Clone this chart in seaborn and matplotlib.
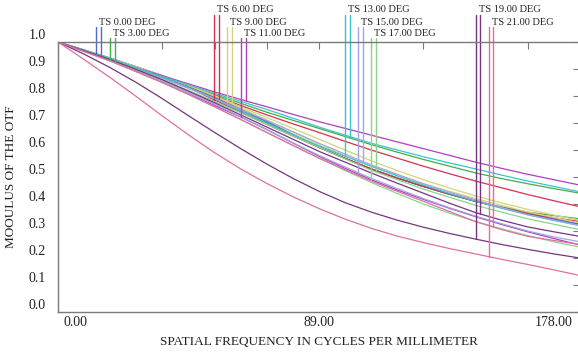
import matplotlib
matplotlib.use("Agg")
import matplotlib.pyplot as plt
import matplotlib.transforms as mtransforms
import numpy as np
import pandas as pd
import seaborn as sns

# spatial frequency samples (cycles/mm)
freq = [0, 8.9, 17.8, 26.7, 35.6, 44.5, 53.4, 62.3, 71.2, 80.1, 89.0,
        97.9, 106.8, 115.7, 124.6, 133.5, 142.4, 151.3, 160.2, 169.1, 178.0]

# field angles (deg)
fields = [0, 3, 6, 9, 11, 13, 15, 17, 19, 21]

# MTF, tangential / sagittal per field
tan_mtf = {
    0:  [1, .970, .940, .908, .875, .836, .795, .751, .705, .657, .610, .569, .530, .496, .465, .436, .410, .387, .365, .344, .325],
    3:  [1, .968, .935, .903, .870, .831, .790, .746, .700, .654, .610, .569, .530, .496, .465, .436, .410, .389, .370, .357, .345],
    6:  [1, .970, .940, .908, .875, .831, .785, .740, .695, .652, .610, .569, .530, .496, .465, .437, .410, .387, .365, .349, .335],
    9:  [1, .970, .940, .908, .875, .839, .800, .756, .710, .665, .620, .579, .540, .507, .475, .447, .420, .395, .370, .350, .330],
    11: [1, .965, .930, .890, .850, .808, .765, .722, .676, .626, .577, .532, .490, .452, .417, .384, .353, .324, .297, .272, .248],
    13: [1, .970, .940, .905, .870, .831, .790, .745, .700, .657, .615, .577, .540, .504, .470, .439, .410, .384, .360, .339, .320],
    15: [1, .965, .930, .893, .855, .813, .770, .723, .675, .627, .580, .537, .495, .457, .420, .386, .355, .327, .300, .278, .260],
    17: [1, .965, .930, .891, .850, .806, .760, .713, .665, .617, .570, .524, .480, .439, .400, .366, .335, .308, .283, .260, .240],
    19: [1, .955, .905, .850, .790, .727, .665, .605, .548, .495, .447, .405, .370, .340, .314, .291, .270, .250, .232, .215, .200],
    21: [1, .935, .868, .798, .726, .656, .590, .530, .476, .427, .383, .344, .310, .281, .257, .235, .215, .195, .176, .156, .135],
}
sag_mtf = {
    0:  [1, .970, .940, .908, .875, .836, .795, .751, .705, .657, .610, .569, .530, .496, .465, .436, .410, .387, .365, .344, .325],
    3:  [1, .968, .935, .903, .870, .838, .805, .773, .740, .710, .680, .650, .620, .592, .565, .540, .515, .494, .475, .457, .440],
    6:  [1, .968, .935, .903, .870, .836, .800, .765, .730, .697, .665, .632, .600, .570, .540, .512, .485, .460, .435, .412, .390],
    9:  [1, .970, .940, .908, .875, .839, .800, .760, .720, .680, .640, .600, .560, .524, .490, .459, .430, .404, .380, .359, .340],
    11: [1, .967, .935, .905, .875, .845, .815, .787, .760, .732, .705, .680, .655, .630, .605, .580, .555, .532, .510, .490, .470],
    13: [1, .967, .935, .903, .872, .841, .810, .780, .750, .718, .685, .655, .625, .600, .575, .552, .530, .507, .485, .465, .445],
    15: [1, .968, .935, .900, .865, .828, .790, .750, .710, .668, .625, .585, .545, .510, .475, .444, .415, .387, .360, .340, .320],
    17: [1, .968, .935, .898, .860, .820, .780, .738, .695, .652, .610, .567, .525, .490, .455, .425, .395, .370, .345, .325, .305],
    19: [1, .968, .935, .898, .860, .818, .775, .730, .685, .640, .595, .555, .515, .477, .440, .403, .368, .340, .315, .297, .280],
    21: [1, .965, .930, .891, .850, .806, .760, .713, .665, .617, .570, .527, .485, .447, .410, .372, .335, .305, .280, .265, .250],
}

field_colors = {
    0: "#5565d2", 3: "#3cb04a", 6: "#d8304f", 9: "#d2d47a", 11: "#b040c0",
    13: "#3cc4cc", 15: "#a4a4e6", 17: "#8cd48c", 19: "#74367f", 21: "#e070a0",
}

# legend marker frequencies (T, S) and label tier
marker_freq = {
    0: (13.0, 14.7), 3: (17.7, 19.4), 6: (53.2, 54.9), 9: (57.6, 59.4),
    11: (62.4, 64.1), 13: (97.9, 99.6), 15: (102.3, 104.0), 17: (106.7, 108.4),
    19: (142.5, 143.9), 21: (147.0, 148.3),
}
tier = {0: 1, 3: 2, 6: 0, 9: 1, 11: 2, 13: 0, 15: 1, 17: 2, 19: 0, 21: 1}
label_y = [1.122, 1.074, 1.033]
line_top = [1.100, 1.056, 1.015]

rows = []
for f in fields:
    for kind, src in (("T", tan_mtf), ("S", sag_mtf)):
        for x, v in zip(freq, src[f]):
            rows.append({"freq": x, "mtf": v, "curve": f"{kind}{f}"})
df = pd.DataFrame(rows)
palette = {f"{k}{f}": field_colors[f] for f in fields for k in "TS"}

sns.set_style("white")
plt.rcParams["font.family"] = ["Liberation Serif", "DejaVu Serif"]

fig = plt.figure(figsize=(5.78, 3.52), dpi=100)
ax = fig.add_axes([58 / 578, 40 / 352, 522 / 578, 270 / 352])

sns.lineplot(data=df, x="freq", y="mtf", hue="curve", palette=palette,
             linewidth=0.9, legend=False, ax=ax, estimator=None)

ax.set_xlim(0, 178)
ax.set_ylim(0, 1.0)

# legend: paired vertical markers dropping onto each curve
for f in fields:
    ft, fs = marker_freq[f]
    top = line_top[tier[f]]
    for xm, src in ((ft, tan_mtf), (fs, sag_mtf)):
        bot = np.interp(xm, freq, src[f])
        ax.plot([xm, xm], [bot, top], color=field_colors[f], lw=1.0, clip_on=False)
    ax.text(ft + 1.0, label_y[tier[f]], f"TS {f:.2f} DEG", fontsize=7.5,
            color="#222222", ha="left", va="center", clip_on=False)

for s in ["left", "bottom", "top", "right"]:
    ax.spines[s].set_color("#7a7a7a")
    ax.spines[s].set_linewidth(1.0)

ax.set_xticks(freq[::2])
ax.set_xticklabels([])
ax.set_yticks(np.round(np.arange(0, 1.01, 0.1), 1))
ax.set_yticklabels([f"{v:.1f}" for v in np.arange(0, 1.01, 0.1)])
ax.tick_params(direction="in", length=5, width=0.8, color="#7a7a7a",
               top=True, right=True, labelsize=10, labelcolor="#222222")
ax.tick_params(axis="y", pad=9)
for lab in ax.get_yticklabels():
    lab.set_va("bottom")

xform = mtransforms.blended_transform_factory(ax.transData, ax.transAxes)
for xv, txt, ha, dx in ((0.0, "0.00", "left", 5), (89.0, "89.00", "center", 0),
                        (178.0, "178.00", "right", -7)):
    ax.text(xv, 0, txt, transform=xform + mtransforms.ScaledTranslation(dx / 100, -10 / 100, fig.dpi_scale_trans),
            ha=ha, va="center", fontsize=10, color="#222222")

ax.set_xlabel("SPATIAL FREQUENCY IN CYCLES PER MILLIMETER", fontsize=9.5,
              color="#222222", labelpad=14)
ax.set_ylabel("MOOULUS OF THE OTF", fontsize=9.5, color="#222222", labelpad=8)

fig.savefig("out.png", dpi=100)
